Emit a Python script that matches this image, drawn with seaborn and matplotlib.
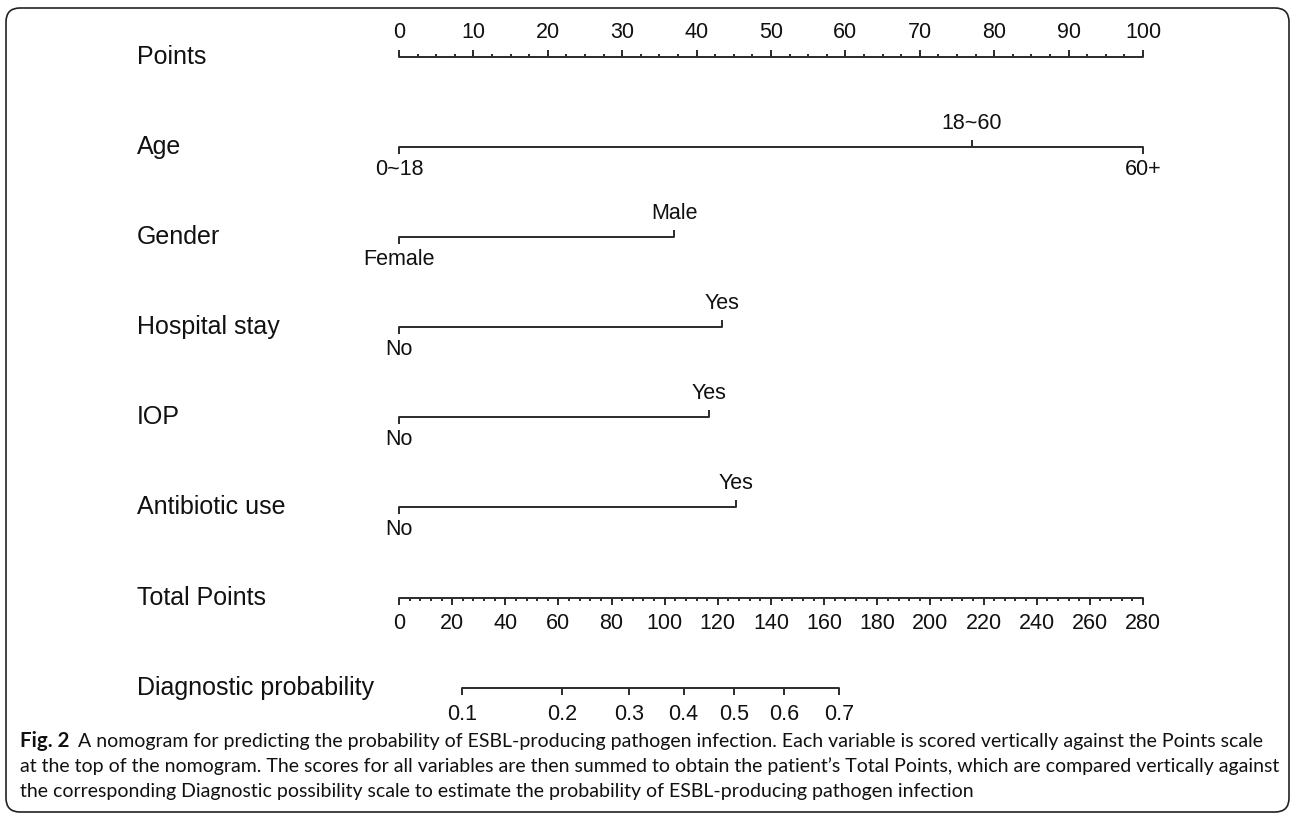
import numpy as np
import matplotlib
matplotlib.use("Agg")
import matplotlib.pyplot as plt
import seaborn as sns
from matplotlib.patches import FancyBboxPatch
from matplotlib.transforms import IdentityTransform

sns.set_style("white")
plt.rcParams['font.family'] = ['Liberation Sans', 'DejaVu Sans']

# ---------------- data ----------------
row_labels = ["Points", "Age", "Gender", "Hospital stay", "IOP",
              "Antibiotic use", "Total Points", "Diagnostic probability"]
points_major = list(range(0, 101, 10))
points_minor = list(np.arange(0, 100.01, 2.5))

age_levels = ["0~18", "18~60", "60+"]
age_points = [0, 77.0, 100]
gender_levels = ["Female", "Male"]
gender_points = [0, 37.0]
hosp_levels = ["No", "Yes"]
hosp_points = [0, 43.4]
iop_levels = ["No", "Yes"]
iop_points = [0, 41.7]
abx_levels = ["No", "Yes"]
abx_points = [0, 45.3]

total_major = list(range(0, 281, 20))
total_minor = list(range(0, 281, 4))
total_max = 280

prob_ticks = ["0.1", "0.2", "0.3", "0.4", "0.5", "0.6", "0.7"]
prob_total_points = [23.6, 61.5, 86.7, 107.1, 126.1, 145.0, 165.6]

caption_bold = "Fig. 2"
caption_lines = [
    "A nomogram for predicting the probability of ESBL-producing pathogen infection. Each variable is scored vertically against the Points scale",
    "at the top of the nomogram. The scores for all variables are then summed to obtain the patient\u2019s Total Points, which are compared vertically against",
    "the corresponding Diagnostic possibility scale to estimate the probability of ESBL-producing pathogen infection",
]

# ---------------- layout ----------------
W, H = 1292, 816
fig = plt.figure(figsize=(W / 100, H / 100), dpi=100)
ax = fig.add_axes([0, 0, 1, 1])
PX_PER_PT = 7.44          # pixels per point on Points scale
X0_PX = 399               # pixel x of 0 points
ROW_PX = 90.1             # pixel spacing between rows
Y0_PX = 57                # pixel y of first row
ax.set_xlim(-X0_PX / PX_PER_PT, (W - X0_PX) / PX_PER_PT)
ax.set_ylim((H - Y0_PX) / ROW_PX, -Y0_PX / ROW_PX)
ax.axis("off")

LC = "#2b2b2b"
LW = 1.4
TC = "#111111"
FS_ROW = 18
FS_TICK = 15.5
dy = lambda px: px / ROW_PX
major_len = dy(7)
minor_len = dy(3.5)


def hline(x0, x1, y):
    sns.lineplot(x=[x0, x1], y=[y, y], ax=ax, color=LC, lw=LW,
                 estimator=None, sort=False, legend=False)


# row labels
for i, lab in enumerate(row_labels):
    ax.text((137 - X0_PX) / PX_PER_PT, i, lab, ha="left", va="center",
            fontsize=FS_ROW, color=TC)

# Points scale (row 0)
hline(min(points_major), max(points_major), 0)
ax.vlines(points_minor, 0, -minor_len, color=LC, lw=LW)
ax.vlines(points_major, 0, -major_len, color=LC, lw=LW)
for t in points_major:
    ax.text(t, -dy(25), str(t), ha="center", va="center", fontsize=FS_TICK, color=TC)

# variable rows
variables = [(age_levels, age_points), (gender_levels, gender_points),
             (hosp_levels, hosp_points), (iop_levels, iop_points),
             (abx_levels, abx_points)]
for r, (levels, pts) in enumerate(variables, start=1):
    hline(min(pts), max(pts), r)
    for k, (lev, p) in enumerate(zip(levels, pts)):
        if k % 2 == 0:   # below
            ax.vlines(p, r, r + major_len, color=LC, lw=LW)
            ax.text(p, r + dy(22), lev, ha="center", va="center",
                    fontsize=FS_TICK, color=TC)
        else:            # above
            ax.vlines(p, r, r - major_len, color=LC, lw=LW)
            ax.text(p, r - dy(24), lev, ha="center", va="center",
                    fontsize=FS_TICK, color=TC)

# Total points (row 6)
sc = 100.0 / total_max
r = 6
hline(0, total_max * sc, r)
ax.vlines([t * sc for t in total_minor], r, r + minor_len, color=LC, lw=LW)
ax.vlines([t * sc for t in total_major], r, r + major_len, color=LC, lw=LW)
for t in total_major:
    ax.text(t * sc, r + dy(26), str(t), ha="center", va="center",
            fontsize=FS_TICK, color=TC)

# Diagnostic probability (row 7)
r = 7
px = [t * sc for t in prob_total_points]
hline(min(px), max(px), r)
ax.vlines(px, r, r + major_len, color=LC, lw=LW)
for lab, x in zip(prob_ticks, px):
    ax.text(x, r + dy(27), lab, ha="center", va="center",
            fontsize=FS_TICK, color=TC)

# ---------------- caption ----------------
renderer = fig.canvas.get_renderer()
cap_font = ["Lato", "DejaVu Sans"]
target_w = 1262
probe = fig.text(0, 0, caption_lines[1], fontsize=14, family=cap_font)
w = probe.get_window_extent(renderer).width
probe.remove()
cap_fs = 14 * target_w / w

xL = 20
line_y = [741, 766, 791]
fb = fig.text(xL / W, 1 - line_y[0] / H, caption_bold, fontsize=cap_fs * 1.05,
              family=cap_font, fontweight="bold", va="center", ha="left", color="#111")
bw = fb.get_window_extent(renderer).width
gap = cap_fs * 0.6
fig.text((xL + bw + gap) / W, 1 - line_y[0] / H, caption_lines[0], fontsize=cap_fs,
         family=cap_font, va="center", ha="left", color="#111")
for ln, yy in zip(caption_lines[1:], line_y[1:]):
    fig.text(xL / W, 1 - yy / H, ln, fontsize=cap_fs, family=cap_font,
             va="center", ha="left", color="#111")

# border
box = FancyBboxPatch((6, 4), 1283, 804, boxstyle="round,pad=0,rounding_size=14",
                     transform=IdentityTransform(), fill=False, ec="#222", lw=1.2)
fig.patches.append(box)

fig.savefig("out.png", dpi=100)
